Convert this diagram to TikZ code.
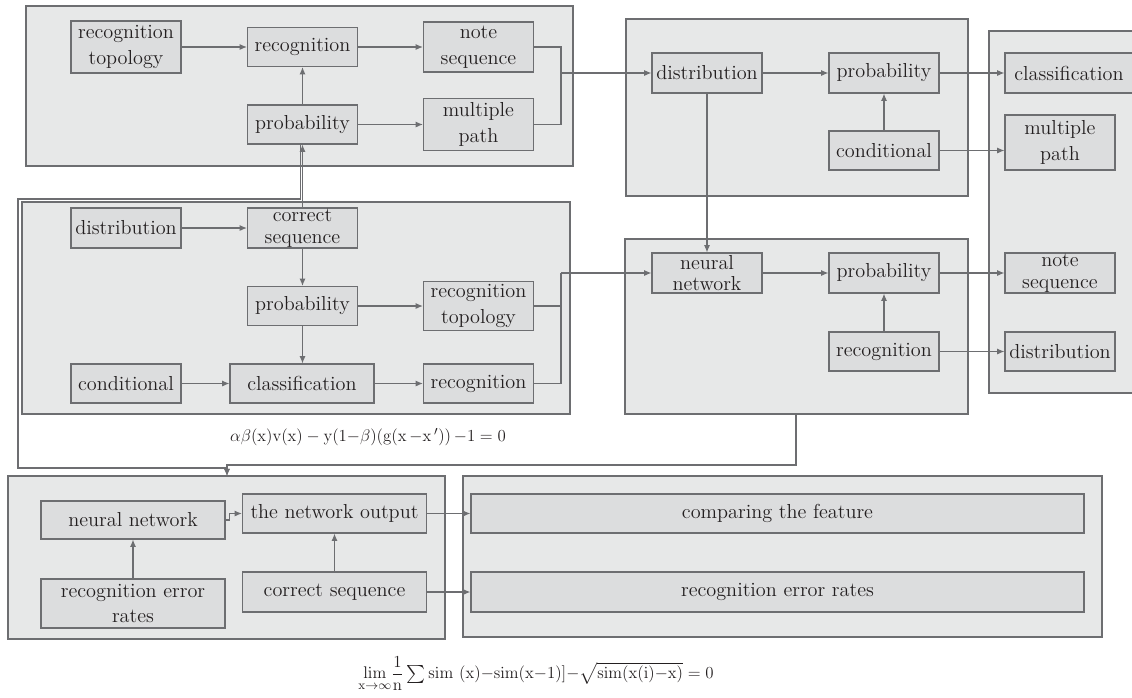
\documentclass[tikz,border=0pt]{standalone}
\usepackage{amsmath}
\usepackage{amssymb}
\usepackage{tikz}
\usetikzlibrary{arrows.meta, calc}

\definecolor{linegray}{RGB}{109,110,113}
\definecolor{grpfill}{RGB}{231,232,232}
\definecolor{boxfill}{RGB}{220,221,222}
\definecolor{txtdark}{RGB}{35,31,32}
\newcommand{\boxfont}{\fontsize{14.4}{18.2}\selectfont}
\newcommand{\tightfont}{\fontsize{14.4}{15.4}\selectfont}
\newcommand{\eqfont}{\fontsize{12.8}{15}\selectfont}

\begin{document}
\begin{tikzpicture}[x=0.25mm, y=-0.25mm]
\tikzset{
  grp/.style={draw=linegray, fill=grpfill, line width=0.33mm},
  box/.style={draw=linegray, fill=boxfill, line width=0.28mm, text=txtdark, minimum width=27.5mm, minimum height=9.75mm, inner xsep=0.5mm, inner ysep=0pt, align=center, font=\boxfont},
  tight/.style={font=\tightfont, minimum height=10mm},
  wire/.style={draw=linegray, line width=0.3mm},
  arr/.style={wire, -{Latex[length=1.8mm, width=1.5mm]}}
}
\useasboundingbox (0,0) rectangle (1132,697);
\clip (0,0) rectangle (1132,697);

\draw [grp] (26,6) rectangle (573,166);
\draw [grp] (22,202) rectangle (570,414);
\draw [grp] (626,19) rectangle (968,196);
\draw [grp] (625,239) rectangle (968,414);
\draw [grp] (989,31) rectangle (1140,393);
\draw [grp] (8,476) rectangle (445,639);
\draw [grp] (463,476) rectangle (1102,637);

\node [box, minimum height=13mm] (rtA) at (126,47) {recognition\\topology};
\node [box] (recA) at (302.5,47) {recognition};
\node [box, minimum height=12.5mm] (nsA) at (478.5,47) {note\\sequence};
\node [box] (probA) at (302.5,124.5) {probability};
\node [box, minimum height=13mm] (mpA) at (478.5,124.5) {multiple\\path};

\node [box, minimum height=10mm] (distD) at (126,228) {distribution};
\node [box, tight] (csD) at (302.5,228) {correct\\sequence};
\node [box] (probD) at (302.5,306) {probability};
\node [box, minimum height=12.25mm] (rtD) at (478.5,306) {recognition\\topology};
\node [box] (condD) at (126,383.5) {conditional};
\node [box, minimum width=36mm] (clsD) at (302,383.5) {classification};
\node [box] (recD) at (478.5,383.5) {recognition};

\node [box, minimum height=10mm] (distB) at (707,73) {distribution};
\node [box, minimum height=10mm] (probB) at (884,73) {probability};
\node [box] (condB) at (884,150.5) {conditional};

\node [box, tight] (nnF) at (707,273) {neural\\network};
\node [box, minimum height=10mm] (probF) at (884,273) {probability};
\node [box] (recF) at (884,351.5) {recognition};

\node [box, minimum width=32mm, minimum height=10mm] (clsC) at (1069,73) {classification};
\node [box, minimum height=13.75mm] (mpC) at (1060,142.5) {multiple\\path};
\node [box, tight] (nsC) at (1060,273) {note\\sequence};
\node [box] (distC) at (1060,351.5) {distribution};

\node [box, minimum width=46mm, minimum height=9.5mm] (nnE) at (133,520) {neural network};
\node [box, minimum width=46mm] (noE) at (334.5,513.5) {the network output};
\node [box, minimum width=46mm, minimum height=12.25mm] (reE) at (133,603.5) {recognition error\\rates};
\node [box, minimum width=46mm, minimum height=10mm] (csE) at (334.5,592) {correct sequence};

\node [box, minimum width=153.25mm] (cmpG) at (777.5,513.5) {comparing the feature};
\node [box, minimum width=153.25mm, minimum height=10mm] (reG) at (777.5,592) {recognition error rates};

\node [text=txtdark, font=\eqfont] (eqA) at (368,437) {$\alpha\beta(\mathrm{x})\mathrm{v}(\mathrm{x}) - \mathrm{y}(1{-}\beta)(\mathrm{g}(\mathrm{x}\,{-}\mathrm{x}\,'))\,{-}1 = 0$};
\node [text=txtdark, font=\eqfont] (eqB) at (536,674) {$\lim\limits_{\mathrm{x}\to\infty}\!\dfrac{1}{\mathrm{n}}\textstyle\sum\mathrm{sim}\ (\mathrm{x}){-}\mathrm{sim}(\mathrm{x}{-}1)]{-}\sqrt{\mathrm{sim}(\mathrm{x}(\mathrm{i}){-}\mathrm{x})} = 0$};

\coordinate (jA) at (561,73);
\coordinate (jD) at (561,273);
\coordinate (lc1) at (18,199);
\coordinate (lc2) at (18,468);
\coordinate (eIn) at (227,476);
\coordinate (fOut) at (796,414);
\coordinate (rc) at (796,465);

\draw [arr] (rtA.east) -- (recA.west);
\draw [arr] (recA.east) -- (nsA.west);
\draw [arr] (probA.north) -- (recA.south);
\draw [arr] (probA.east) -- (mpA.west);
\draw [wire] (nsA.east) -| (jA) |- (mpA.east);
\draw [arr] (jA) -- (distB.west);

\draw [arr] (distD.east) -- (csD.west);
\draw [arr] (csD.south) -- (probD.north);
\draw [arr] (probD.east) -- (rtD.west);
\draw [arr] (probD.south) -- (probD.south |- clsD.north);
\draw [arr] (condD.east) -- (clsD.west);
\draw [arr] (clsD.east) -- (recD.west);
\draw [wire] (rtD.east) -| (jD);
\draw [wire] (recD.east) -| (jD);
\draw [arr] (jD) -- (nnF.west);
\draw [arr] (csD.north) -- (probA.south);
\draw [arr] ([xshift=-0.5mm]probA.south) |- (lc1) -- (lc2) -| (eIn);
\draw [arr] (fOut) -- (rc) -| (eIn);

\draw [arr] (distB.east) -- (probB.west);
\draw [arr] (probB.east) -- (clsC.west);
\draw [arr] (condB.north) -- (probB.south);
\draw [arr] (condB.east) -- (condB.east -| mpC.west);
\draw [arr] (distB.south) -- (nnF.north);

\draw [arr] (nnF.east) -- (probF.west);
\draw [arr] (probF.east) -- (nsC.west);
\draw [arr] (recF.north) -- (probF.south);
\draw [arr] (recF.east) -- (distC.west);

\draw [arr] (nnE.east) -- ++(4,0) |- (noE.west);
\draw [arr] (reE.north) -- (nnE.south);
\draw [arr] (csE.north) -- (noE.south);
\draw [arr] (noE.east) -- (cmpG.west);
\draw [arr] (csE.east) -- (reG.west);
\end{tikzpicture}
\end{document}
